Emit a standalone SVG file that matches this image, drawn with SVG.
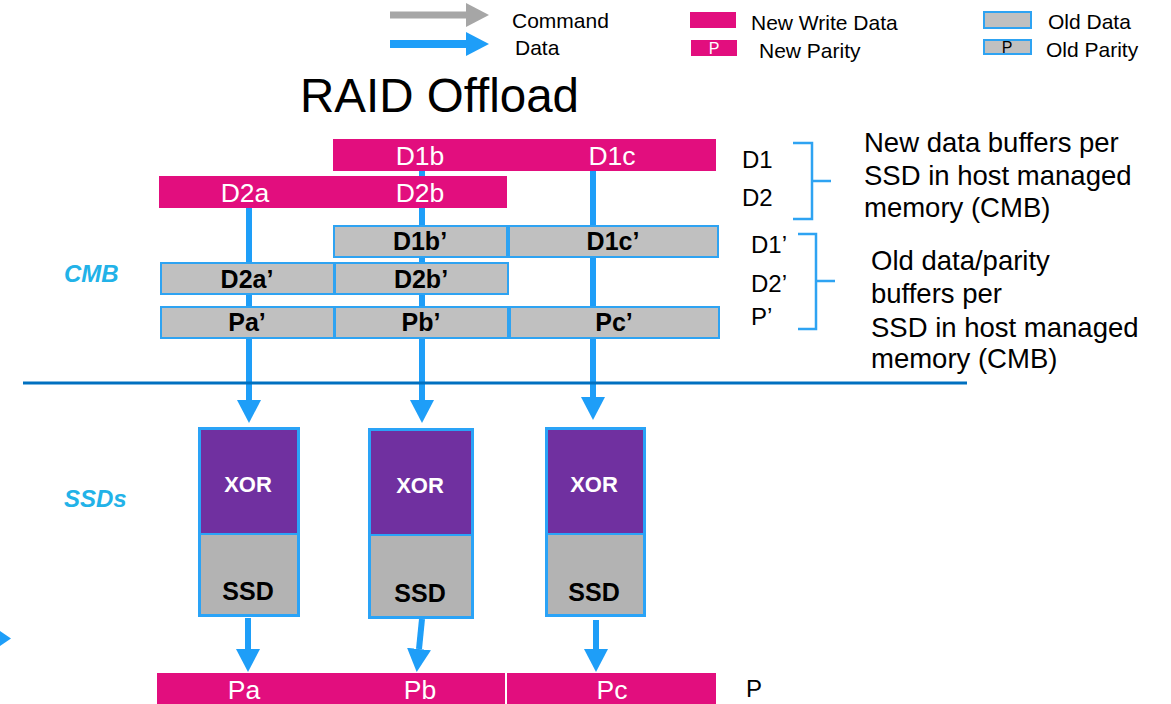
<svg xmlns="http://www.w3.org/2000/svg" width="1171" height="704" viewBox="0 0 1171 704">
  <style>
    .lbl { font-family: "Liberation Sans", Arial, sans-serif; fill: #000; }
    .wt { font-family: "Liberation Sans", Arial, sans-serif; fill: #fff; text-anchor: middle; }
    .bold { font-weight: bold; }
    .mid { text-anchor: middle; }
    .newbuf { fill: #e20e7e; }
    .oldbuf { fill: #c0c0c0; stroke: #2ea3f2; stroke-width: 2; }
    .xor { fill: #7030a0; stroke: #2aa3f7; stroke-width: 2; }
    .ssd { fill: #b3b3b3; stroke: #2aa3f7; stroke-width: 2; }
    .frame { fill: none; stroke: #2aa3f7; stroke-width: 3; }
    .data { stroke: #1e9ef8; stroke-width: 6; fill: none; marker-end: url(#headBlue); }
    .bracket { fill: none; stroke: #2ea3f2; stroke-width: 2.5; }
    .area { font-family: "Liberation Sans", Arial, sans-serif; font-weight: bold; font-style: italic; fill: #22b2e8; font-size: 24px; }
  </style>
  <defs>
    <marker id="headBlue" markerUnits="userSpaceOnUse" markerWidth="23" markerHeight="24" refX="0" refY="12" orient="auto">
      <path d="M0,0 L23,12 L0,24 z" fill="#1e9ef8"/>
    </marker>
    <marker id="headGray" markerUnits="userSpaceOnUse" markerWidth="23" markerHeight="24" refX="0" refY="12" orient="auto">
      <path d="M0,0 L23,12 L0,24 z" fill="#a6a6a6"/>
    </marker>
  </defs>

  <rect width="1171" height="704" fill="#fff"/>

  <!-- legend -->
  <g id="legend">
    <line x1="390" y1="15" x2="466" y2="15" stroke="#a6a6a6" stroke-width="7" marker-end="url(#headGray)"/>
    <line x1="390" y1="44" x2="466" y2="44" stroke="#1e9ef8" stroke-width="8" marker-end="url(#headBlue)"/>
    <text class="lbl" x="512" y="28" font-size="21">Command</text>
    <text class="lbl" x="515" y="55" font-size="21">Data</text>
    <rect class="newbuf" x="690" y="12" width="46" height="16"/>
    <rect class="newbuf" x="691" y="40" width="46" height="16"/>
    <text class="wt" x="714" y="54" font-size="16">P</text>
    <text class="lbl" x="751" y="30" font-size="21">New Write Data</text>
    <text class="lbl" x="759" y="58" font-size="21">New Parity</text>
    <rect class="oldbuf" x="984" y="12" width="47" height="16"/>
    <rect class="oldbuf" x="984" y="40" width="47" height="14"/>
    <text class="lbl mid" x="1007" y="53" font-size="16">P</text>
    <text class="lbl" x="1048" y="29" font-size="21">Old Data</text>
    <text class="lbl" x="1046" y="57" font-size="21">Old Parity</text>
  </g>

  <text id="title" class="lbl" x="300" y="112" font-size="47.5">RAID Offload</text>

  <!-- data flow connectors (drawn beneath the buffers) -->
  <g id="connectors">
    <line class="data" x1="249" y1="200" x2="249" y2="400"/>
    <line class="data" x1="422" y1="140" x2="422" y2="400"/>
    <line class="data" x1="593" y1="140" x2="593" y2="397"/>
    <line class="data" x1="248" y1="618" x2="248" y2="649"/>
    <line class="data" x1="422" y1="619" x2="419" y2="649"/>
    <line class="data" x1="596" y1="620" x2="596" y2="649"/>
    <polygon points="0,631 11,638.5 0,646" fill="#1e9ef8"/>
  </g>

  <!-- host / device boundary -->
  <line x1="23" y1="383" x2="967" y2="383" stroke="#0070c0" stroke-width="3"/>

  <text class="area" x="64" y="282">CMB</text>
  <text class="area" x="64" y="507">SSDs</text>

  <!-- new data buffers -->
  <g id="D1">
    <rect class="newbuf" x="333" y="139" width="383" height="32"/>
    <text class="wt" x="420" y="165" font-size="26.5">D1b</text>
    <text class="wt" x="612" y="165" font-size="26.5">D1c</text>
  </g>
  <g id="D2">
    <rect class="newbuf" x="159" y="176" width="348" height="32"/>
    <text class="wt" x="245" y="202" font-size="26.5">D2a</text>
    <text class="wt" x="420" y="202" font-size="26.5">D2b</text>
  </g>

  <!-- old data / parity buffers -->
  <g id="D1b_old">
    <rect class="oldbuf" x="334" y="226" width="173" height="31"/>
    <text class="lbl bold mid" x="420" y="250" font-size="25">D1b’</text>
  </g>
  <g id="D1c_old">
    <rect class="oldbuf" x="509" y="226" width="209" height="31"/>
    <text class="lbl bold mid" x="613" y="250" font-size="25">D1c’</text>
  </g>
  <g id="D2a_old">
    <rect class="oldbuf" x="161" y="263" width="173" height="31"/>
    <text class="lbl bold mid" x="247" y="288" font-size="25">D2a’</text>
  </g>
  <g id="D2b_old">
    <rect class="oldbuf" x="335" y="263" width="173" height="31"/>
    <text class="lbl bold mid" x="421" y="288" font-size="25">D2b’</text>
  </g>
  <g id="Pa_old">
    <rect class="oldbuf" x="161" y="307" width="173" height="31"/>
    <text class="lbl bold mid" x="247" y="331" font-size="25">Pa’</text>
  </g>
  <g id="Pb_old">
    <rect class="oldbuf" x="335" y="307" width="173" height="31"/>
    <text class="lbl bold mid" x="421" y="331" font-size="25">Pb’</text>
  </g>
  <g id="Pc_old">
    <rect class="oldbuf" x="510" y="307" width="209" height="31"/>
    <text class="lbl bold mid" x="614" y="331" font-size="25">Pc’</text>
  </g>

  <!-- buffer row names and brackets -->
  <g id="row-labels">
    <text class="lbl" x="742" y="168" font-size="24">D1</text>
    <text class="lbl" x="742" y="206" font-size="24">D2</text>
    <text class="lbl" x="751" y="253" font-size="24">D1’</text>
    <text class="lbl" x="751" y="292" font-size="24">D2’</text>
    <text class="lbl" x="751" y="325" font-size="24">P’</text>
    <text class="lbl" x="746" y="697" font-size="24">P</text>
    <path class="bracket" d="M793,143 H812 V219 H793 M812,181 H831"/>
    <path class="bracket" d="M798,234 H816 V329 H798 M816,281 H835"/>
  </g>

  <g id="note-new">
    <text class="lbl" font-size="27.5">
      <tspan x="864" y="152">New data buffers per</tspan>
      <tspan x="864" y="185">SSD in host managed</tspan>
      <tspan x="864" y="217">memory (CMB)</tspan>
    </text>
  </g>
  <g id="note-old">
    <text class="lbl" font-size="27.5">
      <tspan x="871" y="270">Old data/parity</tspan>
      <tspan x="871" y="303">buffers per</tspan>
      <tspan x="871" y="337">SSD in host managed</tspan>
      <tspan x="871" y="368">memory (CMB)</tspan>
    </text>
  </g>

  <!-- SSDs with XOR engines -->
  <g id="ssd-a">
    <rect class="xor" x="200" y="429" width="98" height="105"/>
    <rect class="ssd" x="200" y="534" width="98" height="81"/>
    <rect class="frame" x="199.5" y="428.5" width="99" height="187"/>
    <text class="wt bold" x="248" y="492" font-size="22">XOR</text>
    <text class="lbl bold mid" x="248" y="600" font-size="25">SSD</text>
  </g>
  <g id="ssd-b">
    <rect class="xor" x="370" y="430" width="102" height="105"/>
    <rect class="ssd" x="370" y="535" width="102" height="82"/>
    <rect class="frame" x="369.5" y="429.5" width="103" height="188"/>
    <text class="wt bold" x="420" y="493" font-size="22">XOR</text>
    <text class="lbl bold mid" x="420" y="602" font-size="25">SSD</text>
  </g>
  <g id="ssd-c">
    <rect class="xor" x="547" y="429" width="97" height="105"/>
    <rect class="ssd" x="547" y="534" width="97" height="81"/>
    <rect class="frame" x="546.5" y="428.5" width="98" height="187"/>
    <text class="wt bold" x="594" y="492" font-size="22">XOR</text>
    <text class="lbl bold mid" x="594" y="601" font-size="25">SSD</text>
  </g>

  <!-- new parity buffers -->
  <g id="P">
    <rect class="newbuf" x="157" y="673" width="348" height="31"/>
    <rect class="newbuf" x="507" y="673" width="209" height="31"/>
    <text class="wt" x="244" y="699" font-size="26.5">Pa</text>
    <text class="wt" x="420" y="699" font-size="26.5">Pb</text>
    <text class="wt" x="612" y="699" font-size="26.5">Pc</text>
  </g>
</svg>
